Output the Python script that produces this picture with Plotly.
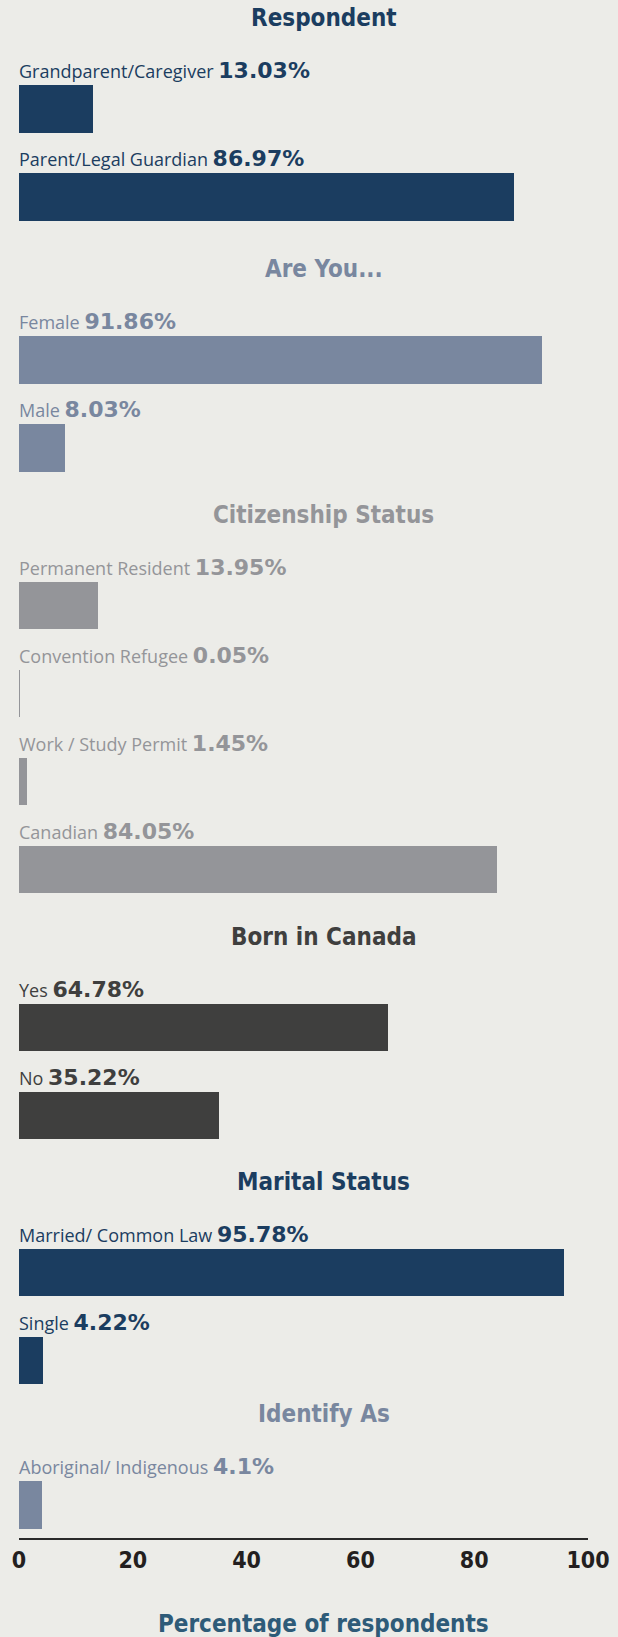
import plotly.graph_objects as go

# ---- survey data -------------------------------------------------------
group_titles = ["Respondent", "Are You...", "Citizenship Status",
                "Born in Canada", "Marital Status", "Identify As"]

respondent_labels = ["Grandparent/Caregiver", "Parent/Legal Guardian"]
respondent_values = [13.03, 86.97]

gender_labels = ["Female", "Male"]
gender_values = [91.86, 8.03]

citizenship_labels = ["Permanent Resident", "Convention Refugee",
                      "Work / Study Permit", "Canadian"]
citizenship_values = [13.95, 0.05, 1.45, 84.05]

born_labels = ["Yes", "No"]
born_values = [64.78, 35.22]

marital_labels = ["Married/ Common Law", "Single"]
marital_values = [95.78, 4.22]

identity_labels = ["Aboriginal/ Indigenous"]
identity_values = [4.1]

x_ticks = [0, 20, 40, 60, 80, 100]
x_title = "Percentage of respondents"

# ---- styling -----------------------------------------------------------
NAVY = "#1b3d60"
SLATE = "#79879f"
GREY = "#949599"
DARK = "#3f3f3e"
BG = "#ecece8"

group_colors = [NAVY, SLATE, GREY, DARK, NAVY, SLATE]
groups = list(zip(
    group_titles,
    [respondent_labels, gender_labels, citizenship_labels,
     born_labels, marital_labels, identity_labels],
    [respondent_values, gender_values, citizenship_values,
     born_values, marital_values, identity_values],
    group_colors,
))

# vertical layout in "row" units: one row per bar, extra space before each group
SLOT_PX = 88.0
GAP_BEFORE = [0.0, 0.85, 0.795, 0.795, 0.785, 0.64]
BAR_WIDTH = 0.542

TITLE_FONT = "DejaVu Sans Condensed, Liberation Sans Narrow, sans-serif"
LABEL_FONT = "Open Sans, Noto Sans, sans-serif"


def heading_font(size, color):
    return dict(family=TITLE_FONT, size=size, color=color, weight="bold")


fig = go.Figure()
annotations = []
row = 0.0
last_center = 0.0
for gi, (title, labels, values, color) in enumerate(groups):
    row += GAP_BEFORE[gi]
    ys = [row + i for i in range(len(labels))]
    row = ys[-1] + 1.0
    last_center = ys[-1]
    fig.add_trace(go.Bar(
        x=values, y=ys, orientation="h", width=BAR_WIDTH,
        marker=dict(color=color, line=dict(width=0)),
        hoverinfo="skip", showlegend=False,
    ))
    # group heading, centred above its first bar
    annotations.append(dict(
        x=0.536, xref="paper", y=ys[0], yref="y",
        xanchor="center", yanchor="bottom", yshift=75,
        text=title, showarrow=False,
        font=heading_font(24, color),
    ))
    # category name + value sitting above each bar
    for lab, val, yv in zip(labels, values, ys):
        annotations.append(dict(
            x=0, xref="x", y=yv, yref="y",
            xanchor="left", yanchor="bottom", yshift=24, xshift=-2,
            text=(f"{lab} <span style='font-family:DejaVu Sans;font-size:22px;"
                  f"font-weight:bold'>{val:g}%</span>"),
            showarrow=False, align="left",
            font=dict(family=LABEL_FONT, size=18, color=color),
        ))

# axis title under the tick labels
annotations.append(dict(
    x=0.536, xref="paper", y=0, yref="paper",
    xanchor="center", yanchor="top", yshift=-70,
    text=x_title, showarrow=False,
    font=heading_font(24, "#2e5b78"),
))

W, H = 618, 1637
M_L, M_R, M_T, M_B = 19, 30, 0, 99
top_pad = 108.9 / SLOT_PX
bottom_pad = 33.1 / SLOT_PX

fig.update_layout(
    width=W, height=H,
    margin=dict(l=M_L, r=M_R, t=M_T, b=M_B, pad=0),
    paper_bgcolor=BG, plot_bgcolor=BG,
    bargap=0,
    annotations=annotations,
    xaxis=dict(
        range=[0, 100], tickvals=x_ticks, ticktext=[str(t) for t in x_ticks],
        showgrid=False, zeroline=False, showline=True,
        linecolor="#2a2a2a", linewidth=2, ticks="",
        tickfont=heading_font(23, "#231f20"),
        fixedrange=True,
    ),
    yaxis=dict(
        range=[last_center + bottom_pad, -top_pad],
        showgrid=False, zeroline=False, showline=False,
        showticklabels=False, ticks="", fixedrange=True,
    ),
)

fig.write_html("out.html")
